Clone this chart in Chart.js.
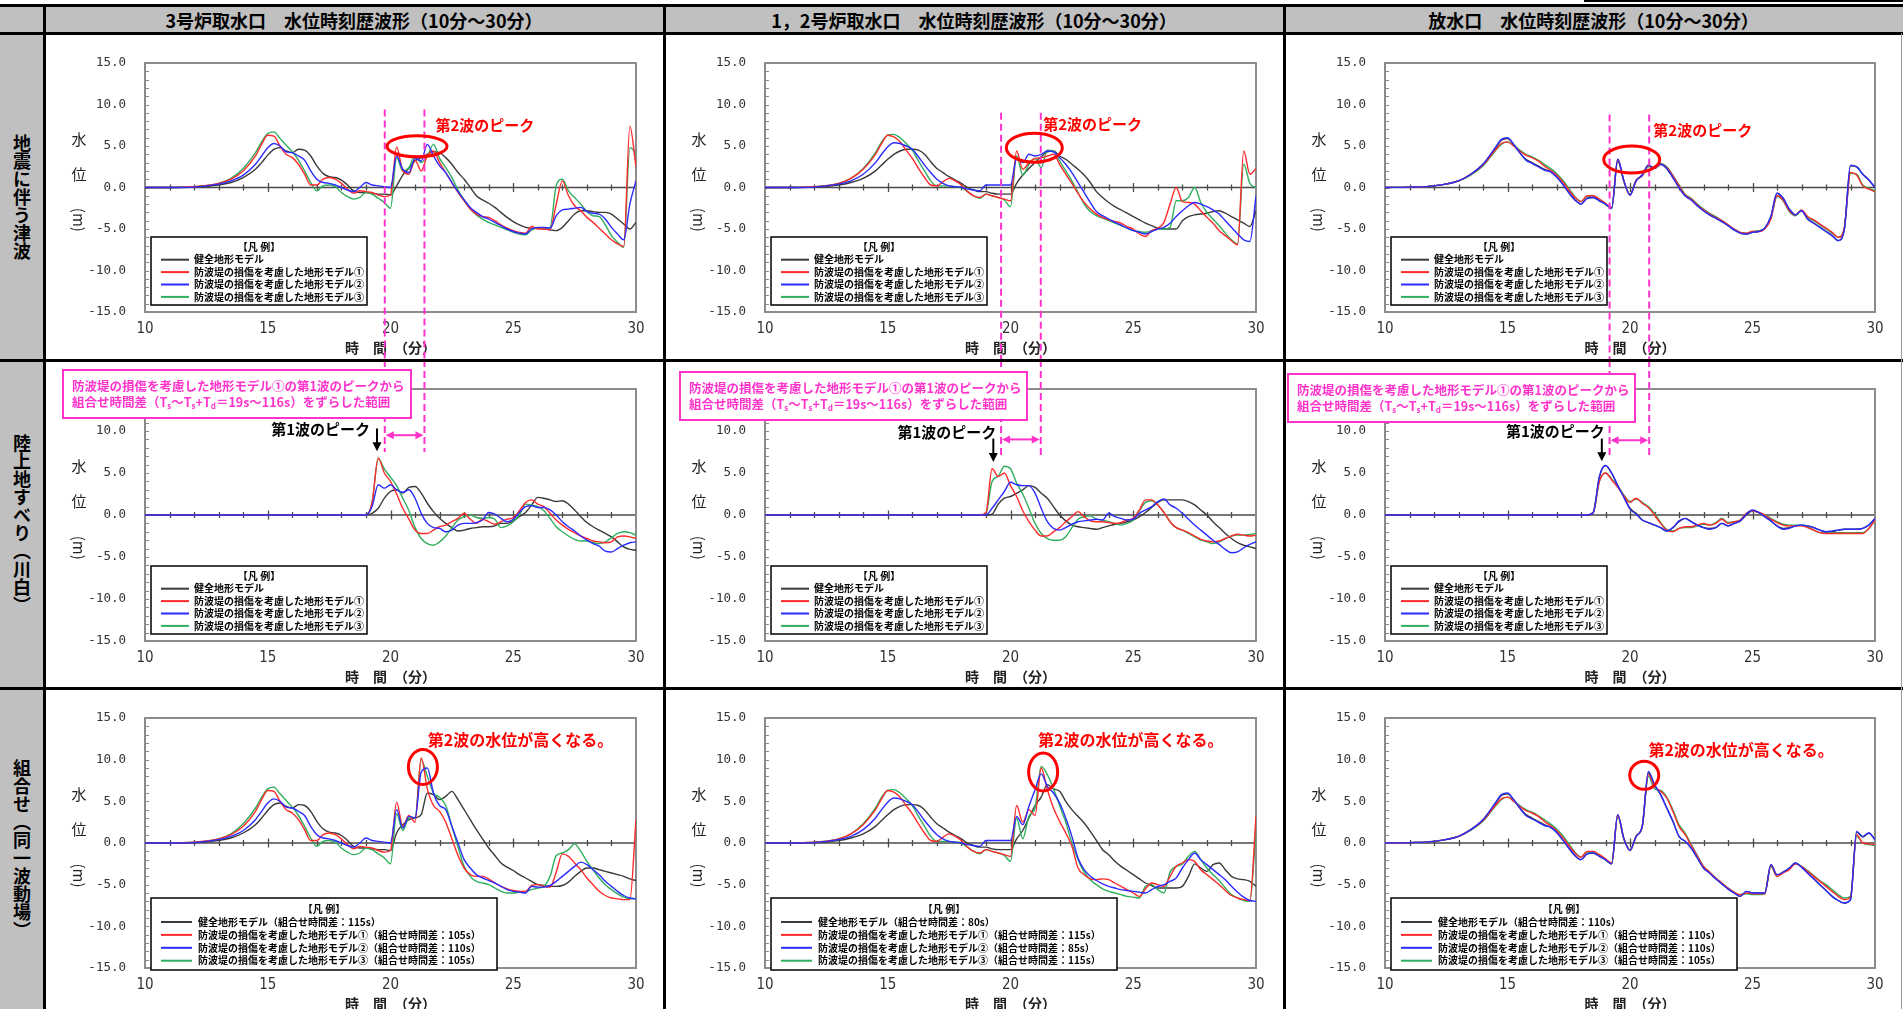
<!DOCTYPE html>
<html lang="ja">
<head>
<meta charset="utf-8">
<title>水位時刻歴波形</title>
<script src="https://cdn.jsdelivr.net/npm/chart.js@4.4.1/dist/chart.umd.min.js"></script>
<style>
  html, body { margin: 0; padding: 0; background: #fff; }
  body { position: relative; width: 1903px; height: 1009px; overflow: hidden; font-family: "Noto Sans CJK JP", sans-serif; }
  .gray { position: absolute; background: #c0c0c0; }
  .rule { position: absolute; background: #000; z-index: 5; }
  .head { position: absolute; top: 7px; height: 26px; line-height: 26px; text-align: center; font-weight: bold; font-size: 18px; color: #000; z-index: 2; }
  .side { position: absolute; left: 0; width: 44px; display: flex; align-items: center; justify-content: center; z-index: 2; }
  .side span { writing-mode: vertical-rl; font-weight: bold; font-size: 18px; color: #000; }
  canvas { position: absolute; }
</style>
</head>
<body>
<script>
// time axis (minutes) shared by every series
const TIME = [10,11,12,13,13.5,14,14.5,14.75,15,15.25,
  15.5,15.75,16,16.25,16.5,16.75,17,17.25,17.5,17.75,
  18,18.25,18.5,18.75,19,19.25,19.5,19.75,20,20.25,
  20.5,20.75,21,21.25,21.5,21.75,22,22.25,22.5,22.75,
  23,23.25,23.5,23.75,24,24.25,24.5,24.75,25,25.25,
  25.5,25.75,26,26.25,26.5,26.75,27,27.25,27.5,27.75,
  28,28.25,28.5,28.75,29,29.25,29.5,29.75,30];

const X_TICKS = [10, 15, 20, 25, 30];
const Y_TICKS = [-15, -10, -5, 0, 5, 10, 15];

const COL_TITLES = ['3号炉取水口　水位時刻歴波形（10分～30分）', '1，2号炉取水口　水位時刻歴波形（10分～30分）', '放水口　水位時刻歴波形（10分～30分）'];
const ROW_TITLES = ['地震に伴う津波', '陸上地すべり（川白）', '組合せ（同一波動場）'];
const SERIES_NAMES = ['健全地形モデル', '防波堤の損傷を考慮した地形モデル①', '防波堤の損傷を考慮した地形モデル②', '防波堤の損傷を考慮した地形モデル③'];
const SERIES_COLORS = ['#3a3a3a', '#ff2b2b', '#2b2bff', '#2fae5e'];
const DRAW_ORDER = [4, 2, 1, 3];

// 組合せ時間差
const LAG_U3 = ['115s', '105s', '110s', '105s'];
const LAG_U12 = ['80s', '115s', '85s', '115s'];
const LAG_OUT = ['110s', '110s', '110s', '105s'];

// first-wave peak of model ① (min) and the shift range Ts ~ Ts+Td (s)
const PEAK1 = [19.45, 19.3, 18.85];
const SHIFT_SEC = [19, 116];

// ---- 地震に伴う津波 ----
const eq_u3_k = [0,0,0.05,0.3,0.6,1.2,2.2,3.0,3.9,4.6,
  4.8,4.4,4.2,4.6,4.5,3.8,2.6,1.7,1.3,1.2,
  0.9,0.3,-0.4,-0.6,-0.6,-0.7,-0.8,-0.8,-0.9,0.2,
  1.5,2.3,3.2,3.6,4.0,4.3,4.2,3.6,2.8,1.8,
  1.0,0.0,-1.0,-1.5,-1.9,-2.4,-3.0,-3.6,-4.1,-4.5,
  -4.8,-4.9,-4.9,-5.0,-5.1,-5.2,-4.8,-4.0,-3.2,-2.8,
  -2.8,-2.9,-3.0,-3.0,-3.2,-3.8,-4.4,-5.0,-4.2];
const eq_u3_r = [0,0,0.1,0.5,1.0,2.0,3.8,5.2,6.3,6.2,
  5.0,4.0,3.6,2.8,1.6,0.3,0.3,1.0,1.2,1.0,
  0.5,-0.2,-0.7,-0.4,-0.5,-0.6,-0.9,-1.1,-0.9,4.9,
  2.0,1.6,3.3,2.0,3.8,4.4,3.0,1.8,0.6,-0.6,
  -1.6,-2.6,-3.2,-3.5,-3.6,-4.0,-4.5,-4.9,-5.2,-5.4,
  -5.5,-4.7,-5.0,-5.0,-5.1,-2.0,0.8,-1.0,-2.2,-2.8,
  -3.6,-4.2,-4.9,-5.6,-6.3,-6.8,-7.1,7.4,2.5];
const eq_u3_b = [0,0,0.05,0.4,0.8,1.5,2.8,3.8,4.8,5.3,
  5.0,4.3,4.2,3.8,3.3,2.0,1.0,0.6,0.5,0.3,
  0.0,-0.3,-0.5,0.0,0.6,0.3,0.2,0.1,0.0,3.8,
  2.2,1.8,3.5,3.2,5.2,3.8,2.6,1.8,0.6,-0.5,
  -1.5,-2.4,-3.0,-3.5,-3.8,-4.2,-4.6,-5.0,-5.3,-5.5,
  -5.6,-5.0,-4.8,-4.8,-4.9,-3.4,-2.7,-2.6,-2.5,-2.4,
  -2.9,-3.1,-3.2,-3.8,-4.8,-5.6,-6.3,-2.0,0.8];
const eq_u3_g = [0,0,0.1,0.5,1.1,2.3,4.2,5.5,6.5,6.7,
  5.9,5.1,4.3,3.3,2.0,0.6,-0.4,0.2,0.3,0.1,
  -0.6,-1.1,-1.4,-1.2,-0.6,-0.8,-1.3,-1.8,-2.5,3.6,
  2.0,2.4,3.8,3.0,3.8,5.2,3.5,2.4,1.2,-0.3,
  -1.5,-2.6,-3.3,-3.8,-4.2,-4.5,-4.8,-5.1,-5.4,-5.6,
  -5.7,-5.1,-4.9,-4.9,-4.8,0.2,1.0,-0.4,-1.2,-2.0,
  -2.9,-3.4,-3.5,-4.5,-5.8,-6.6,-7.2,4.8,4.2];

const eq_u12_k = [0,0,0.05,0.3,0.6,1.1,2.0,2.7,3.4,4.0,
  4.4,4.6,4.6,4.5,4.0,3.1,2.3,1.8,1.3,0.9,
  0.5,0.0,-0.3,-0.5,-0.5,-0.7,-0.8,-0.8,-0.8,0.5,
  1.5,2.3,3.0,3.7,4.3,4.4,3.8,3.4,2.8,2.2,
  1.5,0.6,-0.5,-1.2,-1.8,-2.3,-2.7,-3.1,-3.5,-3.9,
  -4.3,-4.6,-4.9,-5.0,-5.0,-5.0,-4.0,-3.5,-3.3,-3.2,
  -3.1,-2.9,-2.8,-3.1,-3.5,-3.9,-4.3,-4.7,-2.8];
const eq_u12_r = [0,0,0.1,0.5,1.1,2.2,4.0,5.3,6.3,6.1,
  5.5,4.5,3.5,2.3,1.2,0.3,0.2,0.7,1.1,0.8,
  0.3,-0.5,-1.0,-1.2,-0.8,-1.0,-1.2,-1.4,-1.6,4.4,
  2.2,3.0,3.5,3.6,3.8,4.0,2.8,1.6,0.5,-0.7,
  -1.8,-2.6,-3.2,-3.6,-3.9,-4.1,-4.3,-4.7,-5.0,-5.6,
  -5.9,-5.2,-4.9,-4.2,-2.0,0.0,-1.7,-1.8,-2.0,-2.8,
  -3.6,-4.3,-5.2,-5.8,-6.4,-6.9,4.4,1.6,2.3];
const eq_u12_b = [0,0,0.05,0.4,0.8,1.6,3.0,4.0,4.9,5.4,
  5.3,5.0,4.6,3.7,2.7,1.8,1.0,0.5,0.2,0.1,
  0.0,-0.2,-0.3,-0.4,0.3,0.3,0.3,0.3,0.3,3.5,
  3.0,4.0,3.8,4.0,4.4,4.3,3.6,2.8,1.8,0.6,
  -0.6,-1.8,-2.9,-3.4,-3.8,-4.2,-4.5,-4.9,-5.2,-5.4,
  -5.6,-5.3,-5.0,-4.8,-4.3,-3.5,-2.8,-2.2,-1.8,-2.0,
  -2.3,-2.7,-3.2,-4.0,-4.8,-5.6,-6.3,-6.5,-1.0];
const eq_u12_g = [0,0,0.1,0.5,1.1,2.3,4.2,5.5,6.3,6.4,
  6.0,5.3,4.5,3.2,2.0,0.8,0.2,0.2,0.2,0.1,
  0.0,-0.5,-1.0,-1.3,-0.8,-1.0,-1.2,-1.5,-2.3,3.8,
  1.5,2.8,3.5,2.4,4.5,4.4,3.2,2.0,0.8,-0.6,
  -2.0,-2.9,-3.4,-3.7,-4.0,-4.3,-4.6,-4.9,-5.2,-5.3,
  -5.4,-5.2,-5.0,-5.0,-4.8,-1.6,-1.6,-1.2,0.0,-1.8,
  -3.0,-3.8,-4.6,-5.5,-6.3,-6.8,2.8,0.5,0.0];

const eq_out_k = [0,0.05,0.2,0.8,1.6,2.8,4.7,5.7,5.9,5.2,
  4.2,3.4,3.0,2.6,2.2,1.9,1.3,0.4,-0.6,-1.5,
  -2.0,-1.3,-1.2,-1.6,-2.0,-2.5,3.4,0.8,-0.9,0.8,
  1.5,2.7,2.3,2.8,2.3,1.2,0.0,-1.0,-1.5,-2.2,
  -2.8,-3.3,-3.7,-4.1,-4.6,-5.1,-5.5,-5.6,-5.4,-5.3,
  -4.9,-3.5,-0.7,-1.3,-2.6,-3.3,-2.8,-3.8,-4.3,-4.8,
  -5.3,-5.8,-6.4,-5.0,2.6,2.5,1.6,0.9,0.0];
const eq_out_r = [0,0.05,0.2,0.8,1.6,2.7,4.5,5.3,5.5,5.0,
  4.4,3.9,3.6,3.2,2.6,2.1,1.5,0.7,-0.3,-1.2,
  -1.7,-1.0,-1.0,-1.4,-1.9,-2.4,3.3,0.8,-0.9,0.9,
  1.4,2.6,2.3,2.8,2.4,1.4,0.2,-0.9,-1.4,-2.1,
  -2.7,-3.2,-3.6,-4.0,-4.5,-5.0,-5.4,-5.5,-5.3,-5.3,
  -5.0,-3.8,-1.0,-1.5,-2.8,-3.3,-2.7,-3.5,-3.9,-4.4,
  -4.9,-5.4,-6.0,-4.8,1.8,1.5,0.2,-0.2,-0.5];
const eq_out_b = [0,0.05,0.2,0.8,1.6,2.8,4.8,5.8,6.0,5.2,
  4.2,3.3,2.9,2.5,2.1,1.9,1.3,0.4,-0.6,-1.5,
  -2.0,-1.3,-1.2,-1.6,-2.0,-2.5,3.4,0.8,-0.9,0.8,
  1.5,2.7,2.3,2.8,2.3,1.2,0.0,-1.0,-1.5,-2.2,
  -2.8,-3.3,-3.7,-4.1,-4.6,-5.1,-5.5,-5.6,-5.4,-5.3,
  -4.9,-3.5,-0.7,-1.3,-2.6,-3.3,-2.8,-3.8,-4.3,-4.8,
  -5.3,-5.8,-6.4,-5.0,2.7,2.5,1.6,0.9,0.0];
const eq_out_g = [0,0.05,0.2,0.8,1.5,2.6,4.4,5.2,5.5,5.1,
  4.5,4.0,3.7,3.3,2.8,2.3,1.7,0.9,-0.1,-1.1,
  -1.7,-1.1,-1.1,-1.5,-2.0,-2.5,3.2,0.7,-0.8,0.9,
  1.4,2.5,2.4,2.9,2.5,1.5,0.3,-0.8,-1.3,-2.0,
  -2.6,-3.1,-3.5,-4.0,-4.5,-5.0,-5.4,-5.5,-5.3,-5.2,
  -4.9,-3.7,-1.1,-1.6,-2.9,-3.4,-2.8,-3.6,-4.0,-4.5,
  -5.0,-5.5,-6.0,-4.9,1.7,1.6,0.3,-0.1,-0.4];

// ---- 陸上地すべり（川白） ----
const ls_u3_k = [0,0,0,0,0,0,0,0,0,0, 0,0,0,0,0,0,0,0,0,0,
  0,0,0,0,0,0.2,0.8,2.0,2.8,3.0,
  2.6,3.3,3.4,2.6,1.4,0.4,-0.4,-1.0,-1.5,-1.9,
  -1.8,-1.6,-1.5,-1.4,-1.4,-1.3,-1.0,-1.0,-0.7,-0.2,
  0.3,1.2,2.1,2.0,1.8,1.6,1.7,1.3,0.6,-0.2,
  -0.9,-1.4,-1.8,-2.2,-2.6,-3.2,-3.8,-4.1,-4.2];
const ls_u3_r = [0,0,0,0,0,0,0,0,0,0, 0,0,0,0,0,0,0,0,0,0,
  0,0,0,0,0,1.5,6.8,5.0,4.0,2.5,
  0.8,-0.5,-1.8,-2.2,-2.2,-1.8,-1.4,-1.2,-0.8,-0.4,
  0.2,-0.5,-1.0,-0.5,-0.8,-1.1,-0.8,-0.5,-0.3,0.5,
  1.5,1.8,1.3,1.0,0.2,-0.6,-1.2,-1.7,-2.1,-2.5,
  -2.8,-3.1,-3.2,-3.3,-3.2,-2.6,-2.5,-2.6,-2.8];
const ls_u3_b = [0,0,0,0,0,0,0,0,0,0, 0,0,0,0,0,0,0,0,0,0,
  0,0,0,0,0,1.0,3.6,3.2,3.6,3.0,
  2.7,3.0,2.0,0.2,-1.0,-1.5,-1.6,-2.0,-1.8,-1.2,
  -1.0,-1.0,-0.9,-0.6,0.3,0.1,-0.4,-0.8,-0.5,0.3,
  1.0,1.1,0.9,0.9,0.6,0.0,-0.8,-1.4,-1.9,-2.5,
  -3.0,-3.4,-3.7,-4.3,-4.4,-4.0,-3.6,-3.3,-3.2];
const ls_u3_g = [0,0,0,0,0,0,0,0,0,0, 0,0,0,0,0,0,0,0,0,0,
  0,0,0,0,0,1.5,6.7,5.5,4.5,3.5,
  2.0,0.5,-1.5,-2.8,-3.4,-3.6,-3.2,-2.5,-1.5,-0.6,
  -0.2,0.0,-0.3,-0.4,-0.3,-0.5,-1.5,-1.3,-0.8,0.0,
  1.3,1.2,1.0,0.5,-0.4,-1.4,-2.0,-2.5,-2.9,-3.1,
  -3.1,-3.3,-3.4,-3.2,-2.7,-2.2,-2.0,-2.1,-2.4];

const ls_u12_k = [0,0,0,0,0,0,0,0,0,0, 0,0,0,0,0,0,0,0,0,0,
  0,0,0,0,0,0.1,1.3,2.0,2.2,2.6,
  3.0,3.5,3.3,2.6,2.0,1.0,0.0,-0.7,-1.2,-1.4,
  -1.5,-1.6,-1.7,-1.5,-1.3,-1.1,-1.0,-0.8,-0.6,-0.2,
  0.3,0.9,1.5,1.8,1.8,1.8,1.8,1.6,1.2,0.6,
  0.0,-0.8,-1.5,-2.2,-2.8,-3.3,-3.6,-3.8,-4.0];
const ls_u12_r = [0,0,0,0,0,0,0,0,0,0, 0,0,0,0,0,0,0,0,0,0,
  0,0,0,0,0.3,5.5,4.6,5.0,3.5,2.2,
  0.5,-0.8,-1.8,-2.5,-2.5,-2.0,-1.5,-0.8,-0.2,0.4,
  -0.2,-0.7,-0.8,-0.8,-0.9,-1.0,-0.9,-0.6,-0.4,0.6,
  1.8,1.8,1.2,0.3,-0.8,-1.5,-1.8,-2.1,-2.5,-2.9,
  -3.1,-3.2,-3.1,-2.8,-2.5,-2.3,-2.4,-2.5,-2.4];
const ls_u12_b = [0,0,0,0,0,0,0,0,0,0, 0,0,0,0,0,0,0,0,0,0,
  0,0,0,0,0,0.8,1.8,2.8,3.9,3.6,
  3.5,3.5,2.6,0.8,-0.8,-1.6,-1.8,-1.5,-1.1,-0.8,
  -0.7,-0.6,-0.5,-0.6,0.2,-0.2,-0.4,-0.6,-0.5,0.2,
  0.6,1.0,1.6,1.9,1.2,0.8,0.2,-0.5,-1.2,-1.8,
  -2.4,-3.0,-3.5,-4.1,-4.5,-4.4,-3.9,-3.5,-3.2];
const ls_u12_g = [0,0,0,0,0,0,0,0,0,0, 0,0,0,0,0,0,0,0,0,0,
  0,0,0,0,0.2,4.0,4.6,5.8,5.5,3.8,
  2.5,0.8,-1.0,-2.2,-2.8,-3.0,-3.0,-2.6,-1.5,-0.5,
  -0.2,-0.1,-0.5,-0.6,-0.8,-1.0,-1.2,-1.0,-0.6,0.5,
  1.5,1.7,1.2,0.3,-0.8,-1.5,-1.8,-2.2,-2.6,-3.0,
  -3.2,-3.4,-3.2,-2.8,-2.5,-2.4,-2.4,-2.3,-2.2];

const ls_out_k = [0,0,0,0,0,0,0,0,0,0, 0,0,0,0,0,0,0,0,0,0,
  0,0,0.3,4.5,5.9,5.0,3.5,2.2,0.8,0.2,
  -0.6,-0.9,-1.2,-1.5,-1.9,-1.5,-0.8,-0.4,-0.8,-1.2,
  -1.5,-1.6,-1.5,-1.0,-1.3,-1.0,-0.7,0.0,0.5,0.3,
  -0.2,-0.7,-1.3,-1.6,-1.5,-1.3,-1.2,-1.3,-1.5,-1.8,
  -2.0,-2.0,-1.8,-1.7,-1.7,-1.7,-1.6,-1.2,-0.4];
const ls_out_r = [0,0,0,0,0,0,0,0,0,0, 0,0,0,0,0,0,0,0,0,0,
  0,0,0.3,4.0,5.0,4.2,3.3,2.3,1.5,2.0,
  1.4,0.9,0.0,-1.0,-1.8,-2.0,-1.6,-1.4,-1.4,-1.2,
  -1.0,-1.2,-1.0,-0.5,-1.0,-0.8,-0.6,0.2,0.5,0.3,
  0.0,-0.5,-0.9,-1.2,-1.3,-1.3,-1.3,-1.5,-1.8,-2.1,
  -2.2,-2.2,-2.2,-2.2,-2.2,-2.2,-2.2,-1.6,-0.6];
const ls_out_b = [0,0,0,0,0,0,0,0,0,0, 0,0,0,0,0,0,0,0,0,0,
  0,0,0.3,4.6,5.9,5.0,3.5,2.1,0.7,0.1,
  -0.6,-0.9,-1.2,-1.5,-1.9,-1.5,-0.7,-0.4,-0.8,-1.2,
  -1.5,-1.7,-1.5,-1.0,-1.3,-1.0,-0.7,0.1,0.6,0.3,
  -0.2,-0.7,-1.3,-1.7,-1.6,-1.3,-1.2,-1.3,-1.5,-1.8,
  -2.0,-1.9,-1.8,-1.7,-1.7,-1.7,-1.6,-1.2,-0.4];
const ls_out_g = [0,0,0,0,0,0,0,0,0,0, 0,0,0,0,0,0,0,0,0,0,
  0,0,0.3,4.0,5.0,4.3,3.4,2.4,1.6,1.9,
  1.5,1.0,0.2,-0.9,-1.7,-1.9,-1.6,-1.5,-1.5,-1.3,
  -1.1,-1.2,-0.9,-0.4,-0.9,-0.8,-0.6,0.2,0.5,0.3,
  0.0,-0.4,-0.8,-1.1,-1.2,-1.2,-1.2,-1.4,-1.8,-2.1,
  -2.1,-2.1,-2.1,-2.1,-2.1,-2.1,-2.1,-1.6,-0.6];

// ---- 組合せ（同一波動場） ----
const cb_u3_k = [0,0,0.05,0.3,0.6,1.2,2.2,3.0,3.9,4.6,
  4.8,4.4,4.2,4.6,4.5,3.8,2.6,1.7,1.3,1.2,
  0.9,0.3,-0.4,-0.6,-0.6,-0.7,-0.8,-0.8,-0.9,1.2,
  2.2,2.8,3.0,3.4,6.0,5.8,5.2,5.6,6.2,5.2,
  4.0,2.8,1.6,0.5,-0.6,-1.5,-2.4,-2.9,-3.3,-3.8,
  -4.2,-4.6,-5.0,-5.1,-5.2,-5.2,-5.1,-4.7,-4.0,-3.4,
  -3.0,-3.0,-3.2,-3.4,-3.6,-3.8,-4.0,-4.3,-4.5];
const cb_u3_r = [0,0,0.1,0.5,1.0,2.0,3.8,5.2,6.3,6.2,
  5.0,4.0,3.6,2.8,1.6,0.3,0.3,1.0,1.2,1.0,
  0.5,-0.2,-0.7,-0.4,-0.5,-0.6,-0.9,-1.1,-0.9,4.9,
  2.0,3.3,2.5,10.2,6.5,4.5,3.8,2.5,0.5,-1.5,
  -3.0,-3.8,-4.0,-4.0,-4.3,-4.8,-5.2,-5.5,-5.7,-5.8,
  -5.8,-5.1,-5.0,-5.2,-5.3,-3.5,-1.3,-1.6,-2.4,-3.2,
  -4.2,-5.0,-5.8,-6.3,-6.6,-6.7,-6.8,-6.8,2.8];
const cb_u3_b = [0,0,0.05,0.4,0.8,1.5,2.8,3.8,4.8,5.3,
  5.0,4.3,4.2,3.8,3.3,2.0,1.0,0.6,0.5,0.3,
  0.0,-0.3,-0.5,0.0,0.6,0.3,0.2,0.1,0.0,4.0,
  1.8,3.2,3.0,8.5,9.0,6.0,4.5,4.0,2.0,0.0,
  -2.0,-3.0,-3.8,-4.2,-4.5,-4.8,-5.2,-5.6,-5.8,-5.9,
  -6.0,-5.2,-5.3,-5.3,-5.1,-4.6,-4.0,-3.4,-2.8,-2.3,
  -2.6,-3.2,-3.8,-4.6,-5.2,-5.8,-6.3,-6.6,-6.7];
const cb_u3_g = [0,0,0.1,0.5,1.1,2.3,4.2,5.5,6.5,6.7,
  5.9,5.1,4.3,3.3,2.0,0.6,-0.4,0.2,0.3,0.1,
  -0.6,-1.1,-1.4,-1.2,-0.6,-0.8,-1.3,-1.8,-2.5,3.5,
  1.5,3.0,3.0,10.0,8.0,6.0,5.5,4.5,2.0,-0.5,
  -2.8,-4.0,-4.6,-4.8,-5.0,-5.4,-5.8,-6.0,-6.0,-5.9,
  -5.8,-5.6,-5.4,-5.2,-4.0,-1.5,-1.2,-0.8,-0.1,-1.0,
  -2.2,-3.2,-4.2,-5.0,-5.6,-6.1,-6.5,-6.7,-6.7];

const cb_u12_k = [0,0,0.05,0.3,0.6,1.1,2.0,2.7,3.4,4.0,
  4.4,4.6,4.6,4.5,4.0,3.1,2.3,1.8,1.3,0.9,
  0.5,0.0,-0.3,-0.5,-0.5,-0.7,-0.8,-0.8,-0.8,0.5,
  1.5,3.0,4.5,5.5,7.0,6.5,6.2,5.0,4.0,3.2,
  2.4,1.4,0.3,-0.8,-1.4,-2.2,-2.8,-3.3,-3.8,-4.3,
  -4.8,-5.1,-5.4,-5.4,-5.4,-5.4,-5.2,-4.0,-2.5,-3.0,
  -3.4,-2.6,-2.4,-3.2,-4.0,-4.3,-4.4,-4.6,-5.2];
const cb_u12_r = [0,0,0.1,0.5,1.1,2.2,4.0,5.3,6.3,6.1,
  5.5,4.5,3.5,2.3,1.2,0.3,0.2,0.7,1.1,0.8,
  0.3,-0.5,-1.0,-1.2,-0.8,-1.0,-1.2,-1.4,-1.6,4.5,
  2.5,4.0,3.3,9.0,6.4,4.2,2.6,1.2,-0.4,-3.0,
  -3.8,-4.3,-4.4,-4.3,-4.4,-4.8,-5.2,-5.6,-6.0,-6.4,
  -5.5,-4.8,-5.0,-5.2,-4.0,-2.8,-2.4,-2.0,-2.2,-3.2,
  -3.8,-4.4,-5.0,-5.7,-6.3,-6.6,-6.8,-6.9,3.2];
const cb_u12_b = [0,0,0.05,0.4,0.8,1.6,3.0,4.0,4.9,5.4,
  5.3,5.0,4.6,3.7,2.7,1.8,1.0,0.5,0.2,0.1,
  0.0,-0.2,-0.3,-0.4,0.3,0.3,0.3,0.3,0.3,3.2,
  2.2,4.4,6.4,8.3,6.8,6.0,4.8,3.0,0.8,-1.8,
  -3.2,-4.0,-4.5,-4.9,-5.2,-5.4,-5.6,-5.7,-5.8,-5.9,
  -6.0,-5.6,-5.2,-5.0,-4.6,-4.2,-3.0,-2.0,-1.2,-2.0,
  -2.6,-3.2,-3.8,-4.4,-5.2,-5.9,-6.5,-6.9,-7.0];
const cb_u12_g = [0,0,0.1,0.5,1.1,2.3,4.2,5.5,6.3,6.4,
  6.0,5.3,4.5,3.2,2.0,0.8,0.2,0.2,0.2,0.1,
  0.0,-0.5,-1.0,-1.3,-0.8,-1.0,-1.2,-1.5,-2.2,3.0,
  0.5,3.2,4.2,9.2,8.2,6.5,4.5,2.5,0.0,-2.0,
  -3.5,-4.4,-5.0,-5.5,-5.8,-6.0,-6.2,-6.4,-6.5,-6.6,
  -5.2,-5.0,-5.6,-6.0,-3.5,-2.8,-2.5,-1.6,-1.0,-2.0,
  -3.0,-3.8,-4.5,-5.4,-6.2,-6.6,-6.9,-7.0,1.6];

const cb_out_k = [0,0.05,0.2,0.8,1.6,2.8,4.7,5.7,5.9,5.2,
  4.2,3.4,3.0,2.6,2.2,1.9,1.3,0.4,-0.6,-1.5,
  -2.0,-1.3,-1.2,-1.6,-2.0,-2.5,3.4,0.5,-0.9,0.8,
  2.0,8.4,7.0,5.8,4.2,2.6,0.8,0.2,-0.6,-1.8,
  -3.0,-3.6,-4.3,-4.9,-5.5,-6.0,-6.4,-5.8,-6.0,-6.0,
  -6.0,-2.6,-3.8,-3.5,-3.0,-2.4,-2.9,-3.6,-4.3,-5.0,
  -5.7,-6.4,-6.9,-7.2,-6.8,1.3,0.7,1.2,0.4];
const cb_out_r = [0,0.05,0.2,0.8,1.6,2.7,4.5,5.3,5.5,5.0,
  4.4,3.9,3.6,3.2,2.6,2.1,1.5,0.7,-0.3,-1.2,
  -1.7,-1.0,-1.0,-1.4,-1.9,-2.4,3.3,0.5,-0.9,0.8,
  2.0,8.2,6.8,6.2,5.4,3.8,2.0,1.0,-0.3,-1.6,
  -2.8,-3.5,-4.2,-4.8,-5.4,-5.9,-6.2,-6.0,-6.1,-6.1,
  -6.1,-2.7,-4.0,-3.6,-3.2,-2.5,-2.8,-3.4,-4.0,-4.6,
  -5.2,-5.8,-6.4,-6.8,-6.5,1.0,0.0,-0.1,-0.2];
const cb_out_b = [0,0.05,0.2,0.8,1.6,2.8,4.8,5.8,6.0,5.2,
  4.2,3.3,2.9,2.5,2.1,1.9,1.3,0.4,-0.6,-1.5,
  -2.0,-1.3,-1.2,-1.6,-2.0,-2.5,3.4,0.5,-0.9,0.8,
  2.0,8.6,7.0,5.8,4.2,2.6,0.8,0.2,-0.6,-1.8,
  -3.0,-3.6,-4.3,-4.9,-5.5,-6.0,-6.4,-5.8,-6.0,-6.0,
  -6.0,-2.6,-3.8,-3.5,-3.0,-2.4,-2.9,-3.6,-4.3,-5.0,
  -5.7,-6.4,-6.9,-7.2,-6.8,1.4,0.8,1.2,0.4];
const cb_out_g = [0,0.05,0.2,0.8,1.5,2.6,4.4,5.2,5.5,5.1,
  4.5,4.0,3.7,3.3,2.8,2.3,1.7,0.9,-0.1,-1.1,
  -1.7,-1.1,-1.1,-1.5,-2.0,-2.5,3.2,0.5,-0.8,0.8,
  2.0,8.0,6.5,6.3,5.5,4.0,2.2,1.2,-0.2,-1.5,
  -2.8,-3.5,-4.2,-4.8,-5.4,-5.9,-6.2,-6.1,-6.2,-6.2,
  -6.1,-2.8,-4.0,-3.5,-3.1,-2.5,-2.8,-3.3,-3.9,-4.5,
  -5.0,-5.6,-6.2,-6.6,-6.4,0.8,0.0,-0.2,-0.3];

const SERIES = [
  [[eq_u3_k, eq_u3_r, eq_u3_b, eq_u3_g], [eq_u12_k, eq_u12_r, eq_u12_b, eq_u12_g], [eq_out_k, eq_out_r, eq_out_b, eq_out_g]],
  [[ls_u3_k, ls_u3_r, ls_u3_b, ls_u3_g], [ls_u12_k, ls_u12_r, ls_u12_b, ls_u12_g], [ls_out_k, ls_out_r, ls_out_b, ls_out_g]],
  [[cb_u3_k, cb_u3_r, cb_u3_b, cb_u3_g], [cb_u12_k, cb_u12_r, cb_u12_b, cb_u12_g], [cb_out_k, cb_out_r, cb_out_b, cb_out_g]]
];
const LAGS = [LAG_U3, LAG_U12, LAG_OUT];

// ---- layout ----
const COL_X = [44, 664, 1284], COL_W = [620, 620, 619];
const ROW_Y = [33, 360, 688], ROW_H = [327, 328, 321];
const PAD_TOP = [30, 29, 30], AXIS_H = [48, 47, 41];

const MAGENTA = '#ff33cc';
const JP = '"Noto Sans CJK JP", sans-serif';

// annotation placement per column, in axis units (t = minutes, v = metres)
const ANNO_EQ = [
  { dashTop: 9.4, ell: [21.08, 4.96, 60, 21], text: [21.83, 7.5] },
  { dashTop: 9.0, ell: [20.97, 4.8, 56, 29], text: [21.33, 7.56] },
  { dashTop: 8.8, ell: [20.07, 3.36, 56, 27], text: [20.95, 6.9] }
];
const ANNO_LS = [
  { dashBottom: 7.5, arrowV: 9.5, peakTop: 10.3, peakTip: 7.6, text: [19.17, 10.2], box: [-82, -19, 348] },
  { dashBottom: 7.0, arrowV: 9.0, peakTop: 9.1, peakTip: 6.3, text: [19.42, 9.8], box: [-85, -17, 347] },
  { dashBottom: 6.9, arrowV: 8.9, peakTop: 9.1, peakTip: 6.4, text: [18.97, 10.0], box: [-97, -15, 347] }
];
const ANNO_CB = [
  { ell: [21.32, 9.12, 29, 35], text: [21.52, 12.4] },
  { ell: [21.33, 8.52, 29, 38], text: [21.12, 12.4] },
  { ell: [20.58, 8.12, 29, 28], text: [20.75, 11.2] }
];

const BOX_LINE1 = '防波堤の損傷を考慮した地形モデル①の第1波のピークから';
const BOX_LINE2 = [['組合せ時間差（T', 0], ['s', 1], ['～T', 0], ['s', 1], ['+T', 0], ['d', 1],
  ['＝' + SHIFT_SEC[0] + 's～' + SHIFT_SEC[1] + 's）をずらした範囲', 0]];

// ---- page frame ----
function addDiv(cls, l, t, w, h, text) {
  const d = document.createElement('div');
  d.className = cls;
  Object.assign(d.style, { left: l + 'px', top: t + 'px', width: w + 'px', height: h + 'px' });
  if (text) d.innerHTML = text;
  document.body.appendChild(d);
  return d;
}
addDiv('gray', 0, 6, 1903, 27);
addDiv('gray', 0, 33, 44, 976);
COL_TITLES.forEach((t, c) => addDiv('head', COL_X[c], 7, COL_W[c], 26, t));
ROW_TITLES.forEach((t, r) => addDiv('side', 0, ROW_Y[r], 44, ROW_H[r], '<span>' + t + '</span>'));

function arrowHead(ctx, x, y, dx, dy, size) {
  ctx.beginPath();
  ctx.moveTo(x, y);
  ctx.lineTo(x - dx * size - dy * size * 0.5, y - dy * size + dx * size * 0.5);
  ctx.lineTo(x - dx * size + dy * size * 0.5, y - dy * size - dx * size * 0.5);
  ctx.closePath();
  ctx.fill();
}

function drawLegend(ctx, a, row, labels) {
  const wide = row === 2;
  const w = wide ? 346 : 216, h = wide ? 72 : 68;
  const left = a.left + 6;
  const top = (wide ? a.bottom + 2 : a.bottom - 7) - h;
  ctx.save();
  ctx.fillStyle = '#fff';
  ctx.fillRect(left, top, w, h);
  ctx.strokeStyle = '#000';
  ctx.lineWidth = 1.5;
  ctx.strokeRect(left, top, w, h);
  ctx.fillStyle = '#000';
  ctx.font = 'bold 10px ' + JP;
  ctx.textAlign = 'center';
  ctx.textBaseline = 'middle';
  ctx.fillText('【凡 例】', left + w / 2, top + (wide ? 11 : 10));
  ctx.textAlign = 'left';
  labels.forEach((lab, i) => {
    const y = top + (wide ? 24 + i * 12.9 : 22.7 + i * 12.4);
    ctx.strokeStyle = SERIES_COLORS[i];
    ctx.lineWidth = 2;
    ctx.beginPath();
    ctx.moveTo(left + 10, y);
    ctx.lineTo(left + (wide ? 41 : 38), y);
    ctx.stroke();
    ctx.fillText(lab, left + (wide ? 47 : 43), y);
  });
  ctx.restore();
}

function shiftLines(ctx, x, col, y1, y2) {
  ctx.save();
  ctx.strokeStyle = MAGENTA;
  ctx.lineWidth = 2;
  ctx.setLineDash([7, 4]);
  SHIFT_SEC.forEach(s => {
    const px = x.getPixelForValue(PEAK1[col] + s / 60);
    ctx.beginPath();
    ctx.moveTo(px, y1);
    ctx.lineTo(px, y2);
    ctx.stroke();
  });
  ctx.restore();
}

function sheetPlugin(row, col) {
  return {
    id: 'sheet',
    beforeDatasetsDraw(chart) {
      const { ctx, chartArea: a, scales: { x, y } } = chart;
      ctx.save();
      ctx.strokeStyle = '#888';
      ctx.lineWidth = 1;
      for (let v = -14; v < 15; v++) {
        const py = Math.round(y.getPixelForValue(v)) + 0.5;
        ctx.beginPath();
        ctx.moveTo(a.left, py);
        ctx.lineTo(a.left + 4, py);
        ctx.stroke();
      }
      const y0 = y.getPixelForValue(0);
      ctx.strokeStyle = '#4a4a4a';
      ctx.lineWidth = 1.5;
      ctx.beginPath();
      ctx.moveTo(a.left, y0);
      ctx.lineTo(a.right, y0);
      ctx.stroke();
      ctx.lineWidth = 1.3;
      for (let t = 11; t < 30; t++) {
        const px = Math.round(x.getPixelForValue(t)) + 0.5;
        const len = t % 5 === 0 ? 4.5 : 3;
        ctx.beginPath();
        ctx.moveTo(px, y0 - len);
        ctx.lineTo(px, y0 + len);
        ctx.stroke();
      }
      ctx.strokeStyle = '#8c8c8c';
      ctx.lineWidth = 2;
      ctx.strokeRect(a.left, a.top, a.right - a.left, a.bottom - a.top);
      ctx.restore();
    },
    afterDatasetsDraw(chart) {
      const { ctx, chartArea: a, scales: { x, y } } = chart;
      ctx.save();
      // axis titles
      ctx.fillStyle = '#222';
      ctx.font = '15px ' + JP;
      ctx.textAlign = 'center';
      ctx.textBaseline = 'middle';
      const tx = a.left - 66;
      ctx.fillText('水', tx, y.getPixelForValue(5.8));
      ctx.fillText('位', tx, y.getPixelForValue(1.6));
      ctx.save();
      ctx.translate(tx, y.getPixelForValue(-3.9));
      ctx.rotate(Math.PI / 2);
      ctx.fillText('(m)', 0, 0);
      ctx.restore();
      ctx.font = 'bold 14px ' + JP;
      ctx.fillText('時　間　（分）', (a.left + a.right) / 2, a.bottom + 36);

      if (row === 0) {
        const an = ANNO_EQ[col];
        shiftLines(ctx, x, col, y.getPixelForValue(an.dashTop), chart.height);
        ctx.strokeStyle = '#ff0000';
        ctx.lineWidth = 3;
        ctx.beginPath();
        ctx.ellipse(x.getPixelForValue(an.ell[0]), y.getPixelForValue(an.ell[1]), an.ell[2] / 2, an.ell[3] / 2, 0, 0, Math.PI * 2);
        ctx.stroke();
        ctx.fillStyle = '#ff0000';
        ctx.font = 'bold 15px ' + JP;
        ctx.textAlign = 'left';
        ctx.fillText('第2波のピーク', x.getPixelForValue(an.text[0]), y.getPixelForValue(an.text[1]));
      } else if (row === 1) {
        const an = ANNO_LS[col];
        shiftLines(ctx, x, col, 0, y.getPixelForValue(an.dashBottom));
        // shift range arrow
        const x1 = x.getPixelForValue(PEAK1[col] + SHIFT_SEC[0] / 60);
        const x2 = x.getPixelForValue(PEAK1[col] + SHIFT_SEC[1] / 60);
        const ya = y.getPixelForValue(an.arrowV);
        ctx.strokeStyle = MAGENTA;
        ctx.fillStyle = MAGENTA;
        ctx.lineWidth = 2;
        ctx.beginPath();
        ctx.moveTo(x1 + 6, ya);
        ctx.lineTo(x2 - 6, ya);
        ctx.stroke();
        arrowHead(ctx, x1 + 1, ya, -1, 0, 8);
        arrowHead(ctx, x2 - 1, ya, 1, 0, 8);
        // first peak arrow
        const xp = x.getPixelForValue(PEAK1[col]);
        const yt = y.getPixelForValue(an.peakTop), yb = y.getPixelForValue(an.peakTip);
        ctx.strokeStyle = '#000';
        ctx.fillStyle = '#000';
        ctx.beginPath();
        ctx.moveTo(xp, yt);
        ctx.lineTo(xp, yb - 6);
        ctx.stroke();
        arrowHead(ctx, xp, yb, 0, 1, 9);
        ctx.font = 'bold 15px ' + JP;
        ctx.textAlign = 'right';
        ctx.fillText('第1波のピーク', x.getPixelForValue(an.text[0]), y.getPixelForValue(an.text[1]));
        // note box
        const bx = a.left + an.box[0], by = a.top + an.box[1], bw = an.box[2], bh = 48;
        ctx.fillStyle = '#fff';
        ctx.fillRect(bx, by, bw, bh);
        ctx.strokeStyle = MAGENTA;
        ctx.lineWidth = 2;
        ctx.strokeRect(bx, by, bw, bh);
        ctx.fillStyle = MAGENTA;
        ctx.textAlign = 'left';
        ctx.font = 'bold 12.5px ' + JP;
        ctx.fillText(BOX_LINE1, bx + 9, by + 16);
        let cx = bx + 9;
        BOX_LINE2.forEach(([s, sub]) => {
          ctx.font = (sub ? 'bold 8px ' : 'bold 12.5px ') + JP;
          ctx.fillText(s, cx, by + 32 + (sub ? 4 : 0));
          cx += ctx.measureText(s).width;
        });
      } else {
        const an = ANNO_CB[col];
        ctx.strokeStyle = '#ff0000';
        ctx.lineWidth = 3;
        ctx.beginPath();
        ctx.ellipse(x.getPixelForValue(an.ell[0]), y.getPixelForValue(an.ell[1]), an.ell[2] / 2, an.ell[3] / 2, 0, 0, Math.PI * 2);
        ctx.stroke();
        ctx.fillStyle = '#ff0000';
        ctx.font = 'bold 16px ' + JP;
        ctx.textAlign = 'left';
        ctx.fillText('第2波の水位が高くなる。', x.getPixelForValue(an.text[0]), y.getPixelForValue(an.text[1]));
      }
      ctx.restore();
      drawLegend(ctx, a, row, chart.data.datasets.map(d => d.label));
    }
  };
}

for (let r = 0; r < 3; r++) {
  for (let c = 0; c < 3; c++) {
    const cv = document.createElement('canvas');
    cv.width = COL_W[c];
    cv.height = ROW_H[r];
    cv.style.left = COL_X[c] + 'px';
    cv.style.top = ROW_Y[r] + 'px';
    document.body.appendChild(cv);
    const labels = SERIES_NAMES.map((n, i) => r === 2 ? n + '（組合せ時間差：' + LAGS[c][i] + '）' : n);
    new Chart(cv, {
      type: 'line',
      data: {
        datasets: SERIES[r][c].map((vals, i) => ({
          label: labels[i],
          data: TIME.map((t, j) => ({ x: t, y: vals[j] })),
          borderColor: SERIES_COLORS[i],
          borderWidth: 1.4,
          pointRadius: 0,
          cubicInterpolationMode: 'monotone',
          order: DRAW_ORDER[i]
        }))
      },
      options: {
        responsive: false,
        animation: false,
        devicePixelRatio: 1,
        events: [],
        layout: { padding: { top: PAD_TOP[r], right: 28, left: 0, bottom: 0 } },
        plugins: { legend: { display: false }, tooltip: { enabled: false } },
        scales: {
          x: {
            type: 'linear', min: 10, max: 30,
            afterBuildTicks: s => { s.ticks = X_TICKS.map(v => ({ value: v })); },
            afterFit: s => { s.height = AXIS_H[r]; },
            grid: { display: false, drawTicks: false },
            border: { display: false },
            ticks: { padding: 8, maxRotation: 0, autoSkip: false, color: '#333',
              font: { family: '"Liberation Sans Narrow", "DejaVu Sans Condensed", sans-serif', size: 15 } }
          },
          y: {
            type: 'linear', min: -15, max: 15,
            afterBuildTicks: s => { s.ticks = Y_TICKS.map(v => ({ value: v })); },
            afterFit: s => { s.width = 101; },
            grid: { display: false, drawTicks: false },
            border: { display: false },
            ticks: { padding: 19, color: '#333', callback: v => v.toFixed(1),
              font: { family: '"DejaVu Sans Mono", monospace', size: 12.5 } }
          }
        }
      },
      plugins: [sheetPlugin(r, c)]
    });
  }
}

// table rules
addDiv('rule', 0, 4, 1903, 3);
addDiv('rule', 1584, 0, 319, 2);
addDiv('rule', 0, 32, 1903, 3);
addDiv('rule', 0, 359, 1903, 3);
addDiv('rule', 0, 687, 1903, 3);
[43, 663, 1283].forEach(x => addDiv('rule', x, 4, 3, 1005));
addDiv('rule', 1901, 33, 1, 976).style.background = '#999';
</script>
</body>
</html>
